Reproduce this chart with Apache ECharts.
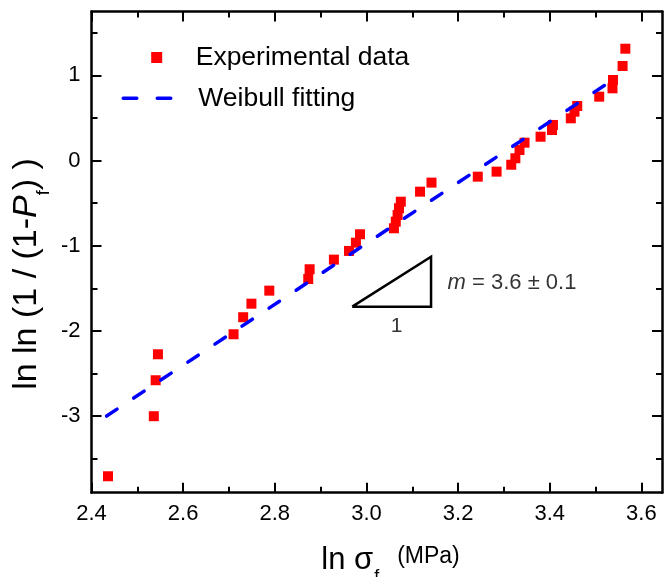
<!DOCTYPE html>
<html><head><meta charset="utf-8">
<script src="https://cdn.jsdelivr.net/npm/echarts@6/dist/echarts.min.js"></script>
<style>html,body{margin:0;padding:0;background:#fff}#c{width:665px;height:577px}</style>
</head><body><div id="c"></div>
<script>
// ---- data ----
const expX = [2.436, 2.536, 2.540, 2.545, 2.710, 2.731, 2.749, 2.788, 2.873, 2.876, 2.929, 2.962, 2.977, 2.986,
  3.060, 3.064, 3.068, 3.071, 3.075, 3.117, 3.142, 3.243, 3.284, 3.316, 3.325, 3.334, 3.345, 3.380, 3.405, 3.407,
  3.446, 3.454, 3.460, 3.508, 3.537, 3.538, 3.559, 3.565];
const expY = [-3.707, -3.002, -2.580, -2.275, -2.040, -1.840, -1.681, -1.528, -1.391, -1.277, -1.164, -1.062, -0.965, -0.866,
  -0.796, -0.718, -0.640, -0.561, -0.484, -0.366, -0.260, -0.190, -0.131, -0.050, 0.026, 0.123, 0.209, 0.279, 0.358, 0.417,
  0.495, 0.573, 0.640, 0.749, 0.847, 0.945, 1.109, 1.312];
const fitX = [2.433, 3.537];
const fitY = [-3.0, 0.944];
const xMajorTicks = [2.4, 2.6, 2.8, 3.0, 3.2, 3.4, 3.6];
const xMinorTicks = [2.5, 2.7, 2.9, 3.1, 3.3, 3.5];
const yMajorTicks = [-3, -2, -1, 0, 1];
const yMinorTicks = [-3.5, -2.5, -1.5, -0.5, 0.5, 1.5];
const triX = [2.969, 3.141, 3.141, 2.969];
const triY = [-1.716, -1.716, -1.129, -1.716];
const slopeText = '{i|m}{n| = 3.6 ± 0.1}';
const slopePos = [3.177, -1.434];
const runText = '1';
const runPos = [3.066, -1.948];
const seriesNames = ['Experimental data', 'Weibull fitting'];

const X_MIN = 2.4, X_MAX = 3.645, Y_MIN = -3.9, Y_MAX = 1.75;
const FONT = '"Liberation Sans", Arial, Helvetica, sans-serif';

function xAx(pos, ticks, len, showLine, showLabel) {
  return {
    type: 'value', gridIndex: 0, position: pos, min: X_MIN, max: X_MAX,
    axisLine: { show: showLine, onZero: false, lineStyle: { color: '#000', width: 2.5 } },
    axisTick: { show: true, inside: true, length: len, customValues: ticks, lineStyle: { color: '#000', width: 2 } },
    axisLabel: showLabel ? { show: true, customValues: ticks, formatter: v => (+v).toFixed(1), color: '#000', fontSize: 22, fontFamily: FONT, margin: 10 } : { show: false },
    splitLine: { show: false }
  };
}
function yAx(pos, ticks, len, showLine, showLabel) {
  return {
    type: 'value', gridIndex: 0, position: pos, min: Y_MIN, max: Y_MAX,
    axisLine: { show: showLine, onZero: false, lineStyle: { color: '#000', width: 2.5 } },
    axisTick: { show: true, inside: true, length: len, customValues: ticks, lineStyle: { color: '#000', width: 2 } },
    axisLabel: showLabel ? { show: true, customValues: ticks, formatter: v => String(Math.round(v)), color: '#000', fontSize: 22, fontFamily: FONT, margin: 11 } : { show: false },
    splitLine: { show: false }
  };
}

const chart = echarts.init(document.getElementById('c'), null, { renderer: 'canvas' });
chart.setOption({
  animation: false,
  backgroundColor: '#fff',
  grid: { left: 91.5, right: 3, top: 11.4, bottom: 84.3, containLabel: false },
  xAxis: [
    xAx('bottom', xMajorTicks, 10, true, true),
    xAx('bottom', xMinorTicks, 6, false, false),
    xAx('top', xMajorTicks, 10, true, false),
    xAx('top', xMinorTicks, 6, false, false)
  ],
  yAxis: [
    yAx('left', yMajorTicks, 10, true, true),
    yAx('left', yMinorTicks, 6, false, false),
    yAx('right', yMajorTicks, 10, true, false),
    yAx('right', yMinorTicks, 6, false, false)
  ],
  legend: [
    {
      data: [seriesNames[0]], left: 151.2, top: 42.5, padding: 0, selectedMode: false,
      icon: 'rect', itemWidth: 11, itemHeight: 11,
      textStyle: { fontSize: 26.5, lineHeight: 30, color: '#000', fontFamily: FONT, padding: [0, 0, 0, 28.5] }
    },
    {
      data: [seriesNames[1]], left: 121.5, top: 83.3, padding: 0, selectedMode: false,
      itemWidth: 50, itemHeight: 14,
      itemStyle: { color: 'rgba(0,0,0,0)', borderColor: 'rgba(0,0,0,0)', borderWidth: 0 },
      lineStyle: { color: '#0000ff', width: 3.5, type: [13.5, 20.5], cap: 'round' },
      textStyle: { fontSize: 26.5, lineHeight: 30, color: '#000', fontFamily: FONT, padding: [0, 0, 0, 20] }
    }
  ],
  series: [
    {
      name: seriesNames[0], type: 'scatter', xAxisIndex: 0, yAxisIndex: 0,
      symbol: 'rect', symbolSize: 10,
      itemStyle: { color: '#ff0000', opacity: 1 },
      data: expX.map((x, i) => [x, expY[i]])
    },
    {
      name: seriesNames[1], type: 'line', xAxisIndex: 0, yAxisIndex: 0,
      symbol: 'none', showSymbol: false,
      lineStyle: { color: '#0000ff', width: 3.5, type: [12.5, 20], cap: 'round' },
      itemStyle: { color: '#0000ff' },
      data: fitX.map((x, i) => [x, fitY[i]])
    },
    {
      name: 'slope triangle', type: 'line', xAxisIndex: 0, yAxisIndex: 0, silent: true,
      symbol: 'none', showSymbol: false,
      lineStyle: { color: '#000', width: 2.5, join: 'miter' },
      data: triX.map((x, i) => [x, triY[i]])
    },
    {
      name: 'annotations', type: 'scatter', xAxisIndex: 0, yAxisIndex: 0, silent: true,
      symbolSize: 0, itemStyle: { color: '#000' },
      data: [
        { value: runPos, label: { show: true, position: 'inside', formatter: runText, color: '#000', fontSize: 21, fontFamily: FONT } },
        { value: slopePos, label: { show: true, position: 'right', distance: 0, formatter: slopeText, color: '#000', fontSize: 22, fontFamily: FONT,
            rich: {
              i: { fontStyle: 'italic', fontSize: 22, fontFamily: FONT, color: '#000' },
              n: { fontSize: 22, fontFamily: FONT, color: '#000' }
            } } }
      ]
    }
  ],
  graphic: [
    {
      type: 'text', x: 27, y: 274, rotation: Math.PI / 2, silent: true,
      style: {
        text: '{a|ln ln (1 / (1-}{i|P}{s|f}{a|) )}',
        align: 'center', verticalAlign: 'middle', fill: '#000',
        font: '34px ' + FONT,
        rich: {
          a: { fontSize: 34, lineHeight: 34, verticalAlign: 'top', fontFamily: FONT, fill: '#000' },
          i: { fontSize: 34, lineHeight: 34, verticalAlign: 'top', fontStyle: 'italic', fontFamily: FONT, fill: '#000' },
          s: { fontSize: 18, lineHeight: 18, verticalAlign: 'top', padding: [25, 0, 0, 0], fontFamily: FONT, fill: '#000' }
        }
      }
    },
    {
      type: 'text', x: 390.5, y: 562.5, silent: true,
      style: {
        text: '{a|ln σ}{s|f}{m|(MPa)}',
        align: 'center', verticalAlign: 'middle', fill: '#000',
        font: '31px ' + FONT,
        rich: {
          a: { fontSize: 31, lineHeight: 31, verticalAlign: 'top', fontFamily: FONT, fill: '#000' },
          s: { fontSize: 18, lineHeight: 18, verticalAlign: 'top', padding: [23, 0, 0, 1], fontFamily: FONT, fill: '#000' },
          m: { fontSize: 23, lineHeight: 35, verticalAlign: 'top', padding: [0, 0, 0, 18], fontFamily: FONT, fill: '#000' }
        }
      }
    }
  ]
});
</script></body></html>
